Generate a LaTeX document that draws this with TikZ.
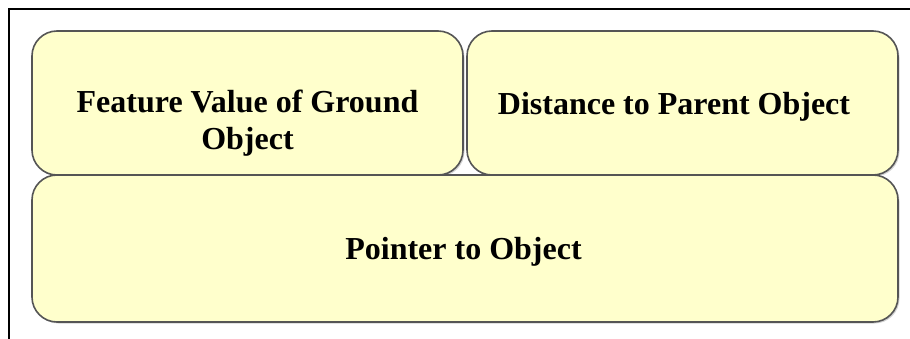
\documentclass[tikz,border=0pt]{standalone}
\usepackage{fontspec}
\setmainfont{Liberation Serif}
\usetikzlibrary{shadows, positioning}
\definecolor{cellfill}{HTML}{FFFFCC}
\definecolor{cellline}{HTML}{555555}

\begin{document}
\begin{tikzpicture}[
x=1pt, y=-1pt,
cell/.style={draw=cellline,
fill=cellfill,
line width=1.6pt,
rounded corners=25pt,
rectangle,
inner sep=0pt,
drop shadow={shadow xshift=1.5pt, shadow yshift=-1.5pt, opacity=0.35}},
celltext/.style={inner sep=0pt,
align=center,
font=\fontsize{32}{37}\selectfont\bfseries} ]

\useasboundingbox (0,0) rectangle (910,339);

% frame: only top and left edges show
\draw[line width=2pt] (9,339) -- (9,9) -- (910,9);

% the three cells
\node[cell, minimum width=431pt, minimum height=144pt] (feature) at (247.5,103) {};
\node[cell, minimum width=431pt, minimum height=144pt] (distance) at (682.5,103) {};
\node[cell, minimum width=866pt, minimum height=147pt] (pointer) at (465,248.5) {};

% their texts, set a little off centre
\node[celltext] (feature-text) at (247.5,123) {Feature Value of Ground\\Object};
\node[celltext, anchor=base] (distance-text) at (674,115) {Distance to Parent Object};
\node[celltext, anchor=base] (pointer-text) at (463.5,259) {Pointer to Object};

\end{tikzpicture}
\end{document}
